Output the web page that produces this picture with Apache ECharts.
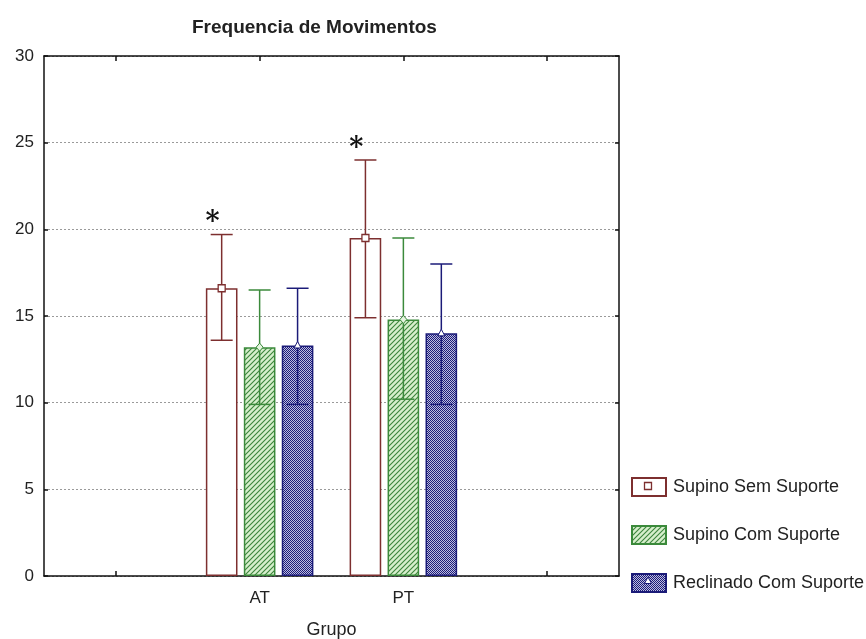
<!DOCTYPE html>
<html>
<head>
<meta charset="utf-8">
<script src="https://cdn.jsdelivr.net/npm/echarts@6/dist/echarts.min.js"></script>
<style>
  html, body { margin: 0; padding: 0; background: #fff; }
  #chart { width: 866px; height: 639px; }
</style>
</head>
<body>
<div id="chart"></div>
<script>
// Groups on the x axis (outer slots stay empty to give the plot its margins)
const categories = ['', 'AT', 'PT', ''];
const seriesNames = ['Supino Sem Suporte', 'Supino Com Suporte', 'Reclinado Com Suporte'];

// Mean frequency of movements and the limits of each whisker
const semMean = ['-', 16.6, 19.5, '-'];
const semLow  = [null, 13.6, 14.9, null];
const semHigh = [null, 19.7, 24.0, null];

const comMean = ['-', 13.2, 14.8, '-'];
const comLow  = [null, 9.9, 10.2, null];
const comHigh = [null, 16.5, 19.5, null];

const recMean = ['-', 13.3, 14.0, '-'];
const recLow  = [null, 9.9, 9.9, null];
const recHigh = [null, 16.6, 18.0, null];

// Significance markers above the whiskers
const semMarks = ['', '*', '*', ''];

const yTicks = { min: 0, max: 30, interval: 5 };

const FONT = '"Liberation Sans", Arial, sans-serif';
const BAR_WIDTH = 0.22;   // fraction of a category band
const BAR_GAP = 0.2;      // fraction of a bar width

const colors = {
  sem: '#7d2f2f',
  com: '#3b8a3b',
  rec: '#1b1b78'
};

// Diagonal hatch for the green bars
function hatchPattern() {
  const c = document.createElement('canvas');
  c.width = 5; c.height = 5;
  const g = c.getContext('2d');
  g.fillStyle = '#d6efcc';
  g.fillRect(0, 0, 5, 5);
  g.strokeStyle = '#3b843b';
  g.lineWidth = 1.1;
  g.beginPath();
  g.moveTo(-1, 6); g.lineTo(6, -1);
  g.moveTo(-1, 1); g.lineTo(1, -1);
  g.moveTo(4, 6); g.lineTo(6, 4);
  g.stroke();
  return c;
}

// Fine checkerboard for the blue bars
function dotPattern() {
  const c = document.createElement('canvas');
  c.width = 2; c.height = 2;
  const g = c.getContext('2d');
  g.fillStyle = '#bcbcdf';
  g.fillRect(0, 0, 2, 2);
  g.fillStyle = '#1b1b78';
  g.fillRect(0, 0, 1, 1);
  g.fillRect(1, 1, 1, 1);
  return c;
}

function barSeries(name, data, fill, border) {
  return {
    name: name,
    type: 'bar',
    data: data,
    barWidth: (BAR_WIDTH * 100) + '%',
    barGap: (BAR_GAP * 100) + '%',
    itemStyle: { color: fill, borderColor: border, borderWidth: 1.5 },
    emphasis: { disabled: true },
    z: 2
  };
}

function marker(kind, x, y, color) {
  if (kind === 'square') {
    return { type: 'rect', shape: { x: x - 3.5, y: y - 3.5, width: 7, height: 7 },
      style: { fill: '#fff', stroke: color, lineWidth: 1.3 } };
  }
  if (kind === 'diamond') {
    return { type: 'polygon', shape: { points: [[x, y - 4], [x + 3.5, y], [x, y + 4], [x - 3.5, y]] },
      style: { fill: '#e6f5e0', stroke: color, lineWidth: 1 } };
  }
  return { type: 'polygon', shape: { points: [[x, y - 4], [x + 3.5, y + 2.5], [x - 3.5, y + 2.5]] },
    style: { fill: '#fff', stroke: color, lineWidth: 1 } };
}

function errorSeries(slot, means, lows, highs, color, kind, marks) {
  const data = [];
  categories.forEach(function (c, i) {
    if (lows[i] != null) data.push([i, lows[i], highs[i], means[i], marks ? marks[i] : '']);
  });
  return {
    type: 'custom',
    data: data,
    z: 5,
    silent: true,
    renderItem: function (params, api) {
      const ci = api.value(0);
      const band = api.size([1, 0])[0];
      const bw = band * BAR_WIDTH;
      const cx = api.coord([ci, 0])[0] + (slot - 1) * bw * (1 + BAR_GAP);
      const yl = api.coord([ci, api.value(1)])[1];
      const yh = api.coord([ci, api.value(2)])[1];
      const ym = api.coord([ci, api.value(3)])[1];
      const cap = 11;
      const ls = { stroke: color, lineWidth: 1.5 };
      const children = [
        { type: 'line', shape: { x1: cx, y1: yl, x2: cx, y2: yh }, style: ls },
        { type: 'line', shape: { x1: cx - cap, y1: yh, x2: cx + cap, y2: yh }, style: ls },
        { type: 'line', shape: { x1: cx - cap, y1: yl, x2: cx + cap, y2: yl }, style: ls },
        marker(kind, cx, ym, color)
      ];
      const mark = api.value(4);
      if (mark) {
        children.push({
          type: 'text',
          style: { text: mark, x: cx - 9, y: yh + 2, fill: '#111',
            font: 'bold 27px "DejaVu Serif", serif', align: 'center', verticalAlign: 'bottom' }
        });
      }
      return { type: 'group', children: children };
    }
  };
}

const chart = echarts.init(document.getElementById('chart'), null, { renderer: 'canvas' });

const axisLineStyle = { color: '#111', width: 1.5 };

// Legend geometry, shared by the legend and the small glyphs inside its swatches
const LEGEND_LEFT = 631, LEGEND_TOP = 477, SWATCH_W = 34, SWATCH_H = 18, LEGEND_GAP = 28;
const swatchCenter = function (i) {
  return [LEGEND_LEFT + SWATCH_W / 2, LEGEND_TOP + SWATCH_H / 2 + i * (SWATCH_H + LEGEND_GAP + 1)];
};

chart.setOption({
  animation: false,
  backgroundColor: '#fff',
  title: {
    text: 'Frequencia de Movimentos',
    left: 187,
    top: 13,
    textStyle: { fontFamily: FONT, fontWeight: 'bold', fontSize: 19, color: '#222' }
  },
  grid: { left: 44, right: 247, top: 56, bottom: 63, outerBoundsMode: 'none' },
  legend: {
    data: seriesNames,
    orient: 'vertical',
    left: LEGEND_LEFT,
    top: LEGEND_TOP,
    padding: 0,
    itemWidth: SWATCH_W,
    itemHeight: SWATCH_H,
    itemGap: LEGEND_GAP,
    icon: 'rect',
    selectedMode: false,
    textStyle: { fontFamily: FONT, fontSize: 18, color: '#222', padding: [0, 0, 0, 2] }
  },
  graphic: [
    Object.assign(marker('square', swatchCenter(0)[0], swatchCenter(0)[1], colors.sem), { z: 200 }),
    Object.assign(marker('triangle', swatchCenter(2)[0], swatchCenter(2)[1] + 1, colors.rec), { z: 200 })
  ],
  xAxis: [
    {
      type: 'category',
      data: categories,
      name: 'Grupo',
      nameLocation: 'middle',
      nameGap: 45,
      nameTextStyle: { fontFamily: FONT, fontSize: 18, color: '#222' },
      axisLine: { show: true, lineStyle: axisLineStyle },
      axisTick: { show: true, alignWithLabel: true, inside: true, length: 5, lineStyle: { color: '#111', width: 1.5 } },
      axisLabel: { fontFamily: FONT, fontSize: 17, color: '#222', margin: 14 },
      splitLine: { show: false }
    },
    {
      type: 'category',
      data: categories,
      position: 'top',
      axisLine: { show: true, onZero: false, lineStyle: axisLineStyle },
      axisTick: { show: true, alignWithLabel: true, inside: true, length: 5, lineStyle: { color: '#111', width: 1.5 } },
      axisLabel: { show: false },
      splitLine: { show: false }
    }
  ],
  yAxis: [
    {
      type: 'value',
      min: yTicks.min, max: yTicks.max, interval: yTicks.interval,
      axisLine: { show: true, lineStyle: axisLineStyle },
      axisTick: { show: true, inside: true, length: 4, lineStyle: { color: '#111', width: 1.5 } },
      axisLabel: { fontFamily: FONT, fontSize: 17, color: '#222', margin: 10 },
      splitLine: { show: true, lineStyle: { color: '#9a9a9a', type: [2, 2], width: 1 } }
    },
    {
      type: 'value',
      position: 'right',
      min: yTicks.min, max: yTicks.max, interval: yTicks.interval,
      axisLine: { show: true, lineStyle: axisLineStyle },
      axisTick: { show: true, inside: true, length: 4, lineStyle: { color: '#111', width: 1.5 } },
      axisLabel: { show: false },
      splitLine: { show: false }
    }
  ],
  series: [
    barSeries(seriesNames[0], semMean, '#ffffff', colors.sem),
    barSeries(seriesNames[1], comMean, { image: hatchPattern(), repeat: 'repeat' }, colors.com),
    barSeries(seriesNames[2], recMean, { image: dotPattern(), repeat: 'repeat' }, colors.rec),
    errorSeries(0, semMean, semLow, semHigh, colors.sem, 'square', semMarks),
    errorSeries(1, comMean, comLow, comHigh, colors.com, 'diamond', null),
    errorSeries(2, recMean, recLow, recHigh, colors.rec, 'triangle', null)
  ]
});
</script>
</body>
</html>
